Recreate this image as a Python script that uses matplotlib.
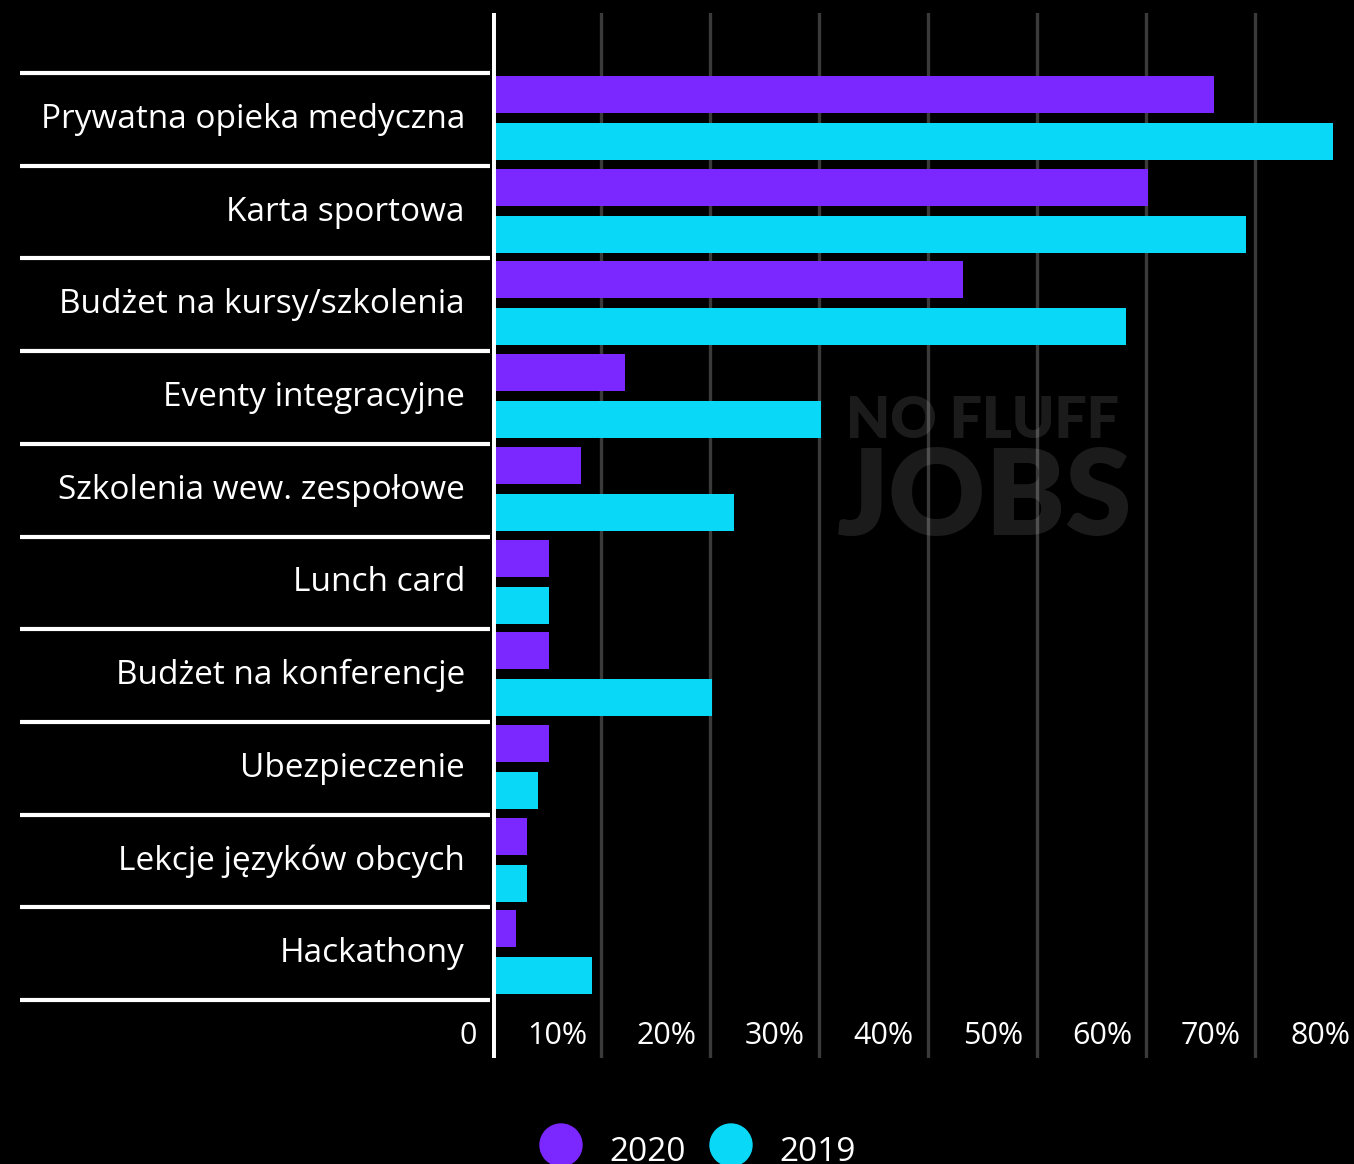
import matplotlib
matplotlib.use("Agg")
import matplotlib.pyplot as plt
from matplotlib.transforms import blended_transform_factory
from matplotlib.patches import Ellipse

categories = [
    "Prywatna opieka medyczna",
    "Karta sportowa",
    "Budżet na kursy/szkolenia",
    "Eventy integracyjne",
    "Szkolenia wew. zespołowe",
    "Lunch card",
    "Budżet na konferencje",
    "Ubezpieczenie",
    "Lekcje języków obcych",
    "Hackathony",
]
values_2020 = [66, 60, 43, 12, 8, 5, 5, 5, 3, 2]
values_2019 = [77, 69, 58, 30, 22, 5, 20, 4, 3, 9]
tick_values = [10, 20, 30, 40, 50, 60, 70, 80]
tick_labels = ["10%", "20%", "30%", "40%", "50%", "60%", "70%", "80%"]
series_names = ["2020", "2019"]

PURPLE = "#7B27FF"
CYAN = "#0AD8F7"
BG = "#000000"
FONT = ["Open Sans", "DejaVu Sans"]
MARK_FONT = ["Lato", "DejaVu Sans"]

W, H = 1354, 1164
fig = plt.figure(figsize=(W / 100, H / 100), dpi=100, facecolor=BG)

# axes: x from pixel 492 to right edge, y from pixel 13 to 1058
x0, y_top, y_bot = 492, 13, 1058
ax = fig.add_axes([x0 / W, 1 - y_bot / H, 1 - x0 / W, (y_bot - y_top) / H])
ax.set_facecolor(BG)
px_per_pct = 10.9
ax.set_xlim(0, (W - x0) / px_per_pct)
row = 92.7
ax.set_ylim((y_bot - 73) / row, (y_top - 73) / row)
for s in ax.spines.values():
    s.set_visible(False)
ax.set_xticks([])
ax.set_yticks([])

# vertical gridlines
for v in tick_values:
    ax.axvline(v, color="#3a3a3a", lw=2.4, zorder=1)

# watermark
ax.text(982 / W, 1 - 421 / H, "NO FLUFF", transform=fig.transFigure, ha="center", va="center",
        fontsize=41, fontweight="heavy", family=MARK_FONT, color="white", alpha=0.11, zorder=2)
ax.text(985 / W, 1 - 500 / H, "JOBS", transform=fig.transFigure, ha="center", va="center",
        fontsize=86, fontweight="heavy", family=MARK_FONT, color="white", alpha=0.11, zorder=2)

n = len(categories)
bar_h = 37 / row
pos_a = [i + (94.5 - 73) / row for i in range(n)]
pos_b = [i + (141.5 - 73) / row for i in range(n)]
ax.barh(pos_a, values_2020, height=bar_h, color=PURPLE, left=0.2, zorder=3)
ax.barh(pos_b, values_2019, height=bar_h, color=CYAN, left=0.2, zorder=3)

# y axis line
ax.axvline(0, color="white", lw=5, zorder=4)

# category separators and labels on the left
tr = blended_transform_factory(fig.transFigure, ax.transData)
for i in range(n + 1):
    ax.plot([20 / W, 490 / W], [i, i], transform=tr, color="white", lw=3,
            clip_on=False, solid_capstyle="butt")
for i, name in enumerate(categories):
    ax.text(465 / W, i + 0.5, name, transform=tr, ha="right", va="center",
            color="white", fontsize=24, family=FONT)

# x tick labels
ty = 1 - 1036 / H
ax.text(477 / W, ty, "0", transform=fig.transFigure, ha="right", va="center",
        color="white", fontsize=22, family=FONT)
for v, lab in zip(tick_values, tick_labels):
    xp = (x0 + v * px_per_pct - 14) / W
    ax.text(xp, ty, lab, transform=fig.transFigure, ha="right", va="center",
            color="white", fontsize=22, family=FONT)

# legend
for cx, col, name in [(561, PURPLE, series_names[0]), (731, CYAN, series_names[1])]:
    fig.patches.append(Ellipse((cx / W, 1 - 1145 / H), 42 / W, 42 / H,
                               transform=fig.transFigure, color=col))
    fig.text((cx + 48) / W, 1 - 1161 / H, name, ha="left", va="baseline",
             color="white", fontsize=24, family=FONT)

fig.savefig("out.png", dpi=100, facecolor=BG)
